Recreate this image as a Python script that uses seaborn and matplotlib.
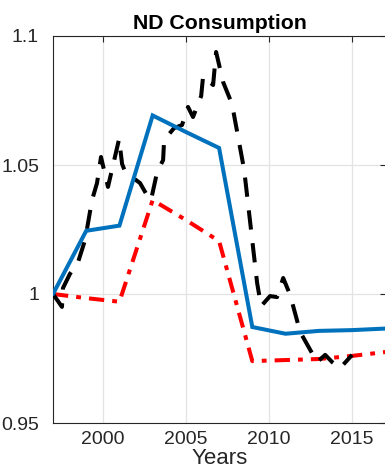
import matplotlib
matplotlib.use("Agg")
import matplotlib.pyplot as plt
import seaborn as sns
import pandas as pd

# Model path (blue, solid), every second year
model_years = [1997, 1999, 2001, 2003, 2005, 2007, 2009, 2011, 2013, 2015, 2017]
model_vals = [1.000, 1.0245, 1.0265, 1.0692, 1.0628, 1.0566, 0.9872, 0.9846, 0.9857, 0.9860, 0.9866]

# Counterfactual path (red, dash-dot)
cf_years = [1997, 1999, 2001, 2003, 2005, 2007, 2009, 2011, 2013, 2015, 2017]
cf_vals = [1.000, 0.9984, 0.9970, 1.0364, 1.0287, 1.0205, 0.9740, 0.9744, 0.9748, 0.9760, 0.9775]

# Data (black, dashed), sub-annual observations
data_years = [1997.00, 1997.54, 1997.60, 1998.02, 1998.51, 1998.93, 1999.35, 1999.65,
              1999.89, 2000.31, 2000.98, 2001.16, 2001.40, 2001.76, 2002.24, 2002.72,
              2002.90, 2003.27, 2003.63, 2003.69, 2004.29, 2004.77, 2005.13, 2005.43,
              2005.92, 2006.04, 2006.64, 2006.82, 2007.24, 2007.78, 2008.51, 2009.29,
              2009.53, 2010.07, 2010.49, 2010.86, 2011.28, 2011.88, 2012.90, 2013.39,
              2013.81, 2014.29, 2015.01]
data_vals = [1.0000, 0.9950, 1.0023, 1.0078, 1.0124, 1.0209, 1.0364, 1.0430,
             1.0531, 1.0415, 1.0601, 1.0504, 1.0465, 1.0453, 1.0430, 1.0376,
             1.0364, 1.0473, 1.0519, 1.0597, 1.0643, 1.0655, 1.0725, 1.0686,
             1.0767, 1.0845, 1.0810, 1.0938, 1.0822, 1.0736, 1.0481, 1.0043,
             0.9953, 0.9992, 0.9988, 1.0062, 0.9996, 0.9853, 0.9736, 0.9764,
             0.9736, 0.9713, 0.9764]

x_ticks = [2000, 2005, 2010, 2015]
y_ticks = [0.95, 1.0, 1.05, 1.1]
y_tick_labels = ["0.95", "1", "1.05", "1.1"]

sns.set_style("white")
plt.rcParams["font.family"] = ["Liberation Sans", "DejaVu Sans"]

fig = plt.figure(figsize=(3.85, 4.70), dpi=100)
ax = fig.add_axes([53 / 385, 0.1, 333 / 385, 387 / 470])

ink = "#262626"
lw = 2.9

model_df = pd.DataFrame({"year": model_years, "value": model_vals})
cf_df = pd.DataFrame({"year": cf_years, "value": cf_vals})
data_df = pd.DataFrame({"year": data_years, "value": data_vals})

sns.lineplot(data=data_df, x="year", y="value", ax=ax, color="black", lw=lw,
             estimator=None, sort=False, linestyle=(0, (4.8, 3.4)), zorder=3)
sns.lineplot(data=cf_df, x="year", y="value", ax=ax, color="#ff0000", lw=lw,
             estimator=None, sort=False, linestyle=(0, (3.8, 2.0, 1.2, 2.0)), zorder=2)
sns.lineplot(data=model_df, x="year", y="value", ax=ax, color="#0072bd", lw=lw,
             estimator=None, sort=False, zorder=4, solid_joinstyle="miter")

ax.set_xlim(1997, 2017.05)
ax.set_ylim(0.95, 1.1)
ax.set_xticks(x_ticks)
ax.set_xticklabels([str(t) for t in x_ticks])
ax.set_yticks(y_ticks)
ax.set_yticklabels(y_tick_labels)

ax.grid(True, color="#e3e3e3", linewidth=0.9, zorder=0)
ax.set_axisbelow(True)
for side in ["left", "right", "top", "bottom"]:
    ax.spines[side].set_visible(True)
    ax.spines[side].set_color(ink)
    ax.spines[side].set_linewidth(0.8)

ax.tick_params(axis="both", direction="in", length=4, width=0.8, color=ink,
               labelcolor=ink, labelsize=14, top=True, right=True)
ax.tick_params(axis="y", pad=10)
ax.tick_params(axis="x", pad=6)

ax.set_xlabel("Years", fontsize=16, color=ink, labelpad=0)
ax.set_ylabel("")
ax.set_title("ND Consumption", fontsize=15.3, fontweight="bold", color="black", pad=5)

fig.savefig("out.png", dpi=100)
